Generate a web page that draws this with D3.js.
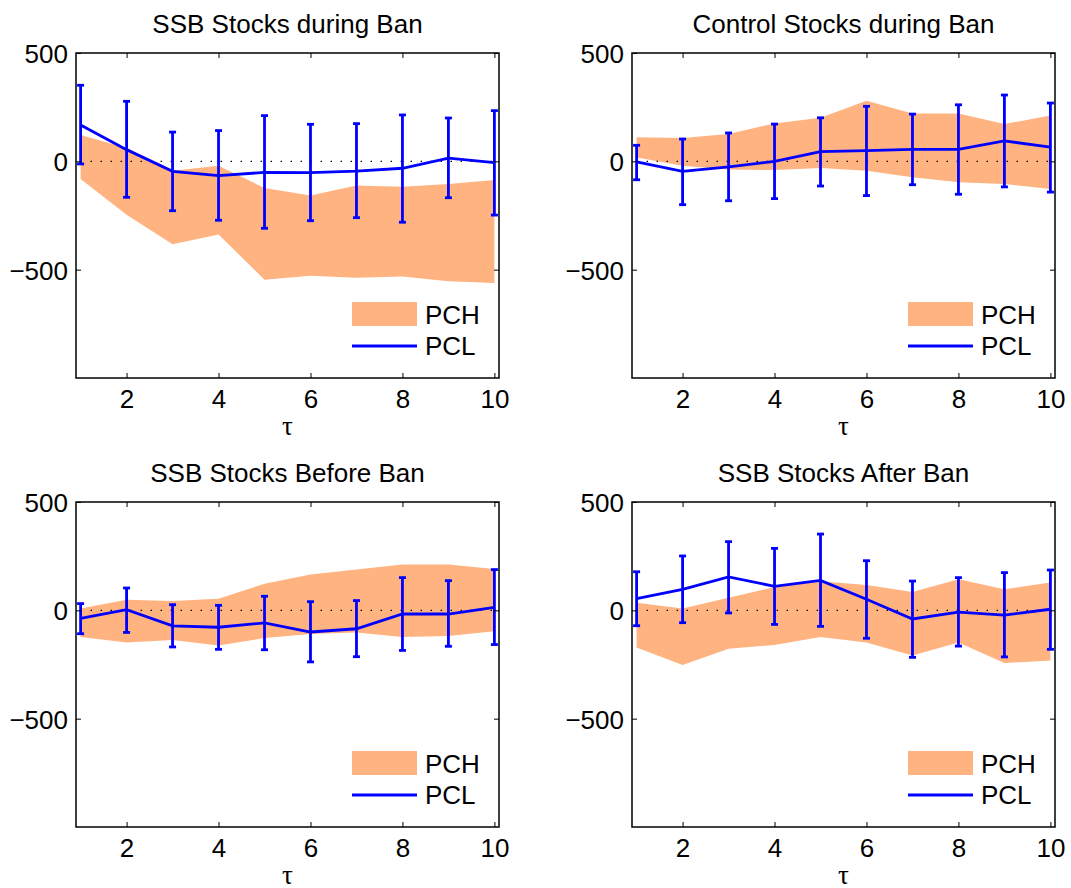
<!DOCTYPE html>
<html>
<head>
<meta charset="utf-8">
<script src="https://cdn.jsdelivr.net/npm/d3@7"></script>
<style>
  body { margin: 0; background: #fff; }
  text { font-family: "Liberation Sans", Arial, sans-serif; fill: #000; }
</style>
</head>
<body>
<div id="chart"></div>
<script>
// horizon tau = 1..10
var tau = [1, 2, 3, 4, 5, 6, 7, 8, 9, 10];

var titles = ["SSB Stocks during Ban", "Control Stocks during Ban", "SSB Stocks Before Ban", "SSB Stocks After Ban"];

var xTicks = [2, 4, 6, 8, 10];
var yTicks = [-500, 0, 500];
var legendLabels = ["PCH", "PCL"];

// PCL mean response and its error bar ends
var pclSSBDuring = [168, 54, -46, -66, -51, -52, -45, -32, 15, -6];
var pclSSBDuringHi = [351, 277, 135, 142, 211, 171, 174, 214, 200, 234];
var pclSSBDuringLo = [-12, -166, -228, -272, -309, -274, -260, -281, -168, -248];

var pclControl = [-2, -46, -26, 0, 45, 49, 55, 55, 94, 66];
var pclControlHi = [74, 103, 131, 172, 201, 254, 218, 261, 306, 269];
var pclControlLo = [-85, -200, -182, -172, -114, -158, -108, -152, -118, -142];

var pclSSBBefore = [-37, 3, -72, -78, -58, -100, -85, -17, -17, 14];
var pclSSBBeforeHi = [31, 103, 26, 23, 65, 40, 45, 151, 137, 188];
var pclSSBBeforeLo = [-108, -102, -169, -180, -182, -238, -214, -185, -166, -158];

var pclSSBAfter = [54, 97, 154, 111, 138, 51, -40, -8, -22, 5];
var pclSSBAfterHi = [178, 251, 317, 286, 352, 229, 135, 151, 174, 186];
var pclSSBAfterLo = [-71, -57, -12, -65, -74, -129, -217, -165, -215, -180];

// PCH confidence band (upper / lower)
var pchSSBDuringHi = [122, 62, -43, -20, -123, -158, -111, -117, -105, -86];
var pchSSBDuringLo = [-82, -246, -383, -338, -546, -528, -537, -531, -554, -561];

var pchControlHi = [111, 108, 126, 175, 201, 280, 221, 221, 172, 211];
var pchControlLo = [18, -20, -38, -40, -31, -43, -74, -97, -105, -128];

var pchSSBBeforeHi = [8, 49, 43, 54, 123, 165, 188, 211, 211, 191];
var pchSSBBeforeLo = [-123, -149, -137, -162, -128, -109, -102, -123, -118, -97];

var pchSSBAfterHi = [35, 8, 58, 108, 134, 117, 85, 143, 97, 129];
var pchSSBAfterLo = [-172, -252, -177, -160, -123, -148, -208, -148, -243, -232];

var panels = [
  {title: titles[0], pcl: pclSSBDuring, hi: pclSSBDuringHi, lo: pclSSBDuringLo, bandHi: pchSSBDuringHi, bandLo: pchSSBDuringLo, left: 76, top: 53},
  {title: titles[1], pcl: pclControl, hi: pclControlHi, lo: pclControlLo, bandHi: pchControlHi, bandLo: pchControlLo, left: 632, top: 53},
  {title: titles[2], pcl: pclSSBBefore, hi: pclSSBBeforeHi, lo: pclSSBBeforeLo, bandHi: pchSSBBeforeHi, bandLo: pchSSBBeforeLo, left: 76, top: 502},
  {title: titles[3], pcl: pclSSBAfter, hi: pclSSBAfterHi, lo: pclSSBAfterLo, bandHi: pchSSBAfterHi, bandLo: pchSSBAfterLo, left: 632, top: 502}
];

var width = 423, height = 325;
var fontSize = 26;
var bandColor = "#ffb380", lineColor = "#0000ff";

var svg = d3.select("#chart").append("svg")
    .attr("width", 1071)
    .attr("height", 888);

var x = d3.scaleLinear().domain([0.9, 10.1]).range([0, width]);
var y = d3.scaleLinear().domain([-1000, 500]).range([height, 0]);

panels.forEach(function(p) {
  var g = svg.append("g").attr("transform", "translate(" + p.left + "," + p.top + ")");

  var rows = tau.map(function(t, i) {
    return {t: t, m: p.pcl[i], hi: p.hi[i], lo: p.lo[i], bHi: p.bandHi[i], bLo: p.bandLo[i]};
  });

  // PCH band
  var area = d3.area()
      .x(function(d) { return x(d.t); })
      .y0(function(d) { return y(d.bLo); })
      .y1(function(d) { return y(d.bHi); });

  g.append("path")
      .datum(rows)
      .attr("d", area)
      .attr("fill", bandColor);

  // zero line
  g.append("line")
      .attr("x1", x(1)).attr("x2", x(10.1))
      .attr("y1", y(0)).attr("y2", y(0))
      .attr("stroke", "#000")
      .attr("stroke-width", 1.4)
      .attr("stroke-dasharray", "1.4,8.6");

  // error bars
  var eb = g.selectAll(".eb").data(rows).enter().append("g").attr("class", "eb");
  eb.append("line")
      .attr("x1", function(d) { return x(d.t); })
      .attr("x2", function(d) { return x(d.t); })
      .attr("y1", function(d) { return y(d.lo); })
      .attr("y2", function(d) { return y(d.hi); });
  eb.append("line")
      .attr("x1", function(d) { return x(d.t) - 3.5; })
      .attr("x2", function(d) { return x(d.t) + 3.5; })
      .attr("y1", function(d) { return y(d.hi); })
      .attr("y2", function(d) { return y(d.hi); });
  eb.append("line")
      .attr("x1", function(d) { return x(d.t) - 3.5; })
      .attr("x2", function(d) { return x(d.t) + 3.5; })
      .attr("y1", function(d) { return y(d.lo); })
      .attr("y2", function(d) { return y(d.lo); });
  eb.selectAll("line")
      .attr("stroke", lineColor)
      .attr("stroke-width", 2.8);

  // PCL line
  var line = d3.line()
      .x(function(d) { return x(d.t); })
      .y(function(d) { return y(d.m); });

  g.append("path")
      .datum(rows)
      .attr("d", line)
      .attr("fill", "none")
      .attr("stroke", lineColor)
      .attr("stroke-width", 2.8);

  // axes, ticks inside, mirrored on top/right
  g.append("g")
      .attr("transform", "translate(0," + height + ")")
      .call(d3.axisBottom(x).tickValues(xTicks).tickSize(-5).tickPadding(12));
  g.append("g")
      .call(d3.axisTop(x).tickValues(xTicks).tickSize(-5).tickFormat(""));
  var yl = g.append("g")
      .call(d3.axisLeft(y).tickValues(yTicks).tickSize(-5).tickPadding(8)
        .tickFormat(function(d) { return d < 0 ? "\u2212" + Math.abs(d) : d; }));
  g.append("g")
      .attr("transform", "translate(" + width + ",0)")
      .call(d3.axisRight(y).tickValues(yTicks).tickSize(-5).tickFormat(""));

  g.selectAll(".domain").remove();
  g.selectAll(".tick line").attr("stroke", "#000").attr("stroke-width", 1);
  g.selectAll(".tick text")
      .style("font-family", "'Liberation Sans', Arial, sans-serif")
      .style("font-size", fontSize + "px")
      .attr("fill", "#000");
  yl.selectAll(".tick text").attr("dy", "0.36em");

  // box
  g.append("rect")
      .attr("width", width)
      .attr("height", height)
      .attr("fill", "none")
      .attr("stroke", "#000")
      .attr("stroke-width", 1.5);

  // title
  g.append("text")
      .attr("x", width / 2)
      .attr("y", -20)
      .attr("text-anchor", "middle")
      .style("font-size", fontSize + "px")
      .text(p.title);

  // x label
  g.append("text")
      .attr("x", width / 2)
      .attr("y", height + 57)
      .attr("text-anchor", "middle")
      .style("font-family", "'Liberation Serif', 'DejaVu Serif', serif")
      .style("font-size", "27px")
      .text("\u03c4");

  // legend
  var lg = g.append("g").attr("transform", "translate(276,249)");
  lg.append("rect")
      .attr("width", 65)
      .attr("height", 24)
      .attr("fill", bandColor);
  lg.append("line")
      .attr("x1", 0).attr("x2", 65)
      .attr("y1", 44).attr("y2", 44)
      .attr("stroke", lineColor)
      .attr("stroke-width", 2.8);
  lg.selectAll(".lt").data(legendLabels).enter().append("text")
      .attr("class", "lt")
      .attr("x", 73)
      .attr("y", function(d, i) { return 22 + i * 31; })
      .style("font-size", fontSize + "px")
      .text(function(d) { return d; });
});
</script>
</body>
</html>
